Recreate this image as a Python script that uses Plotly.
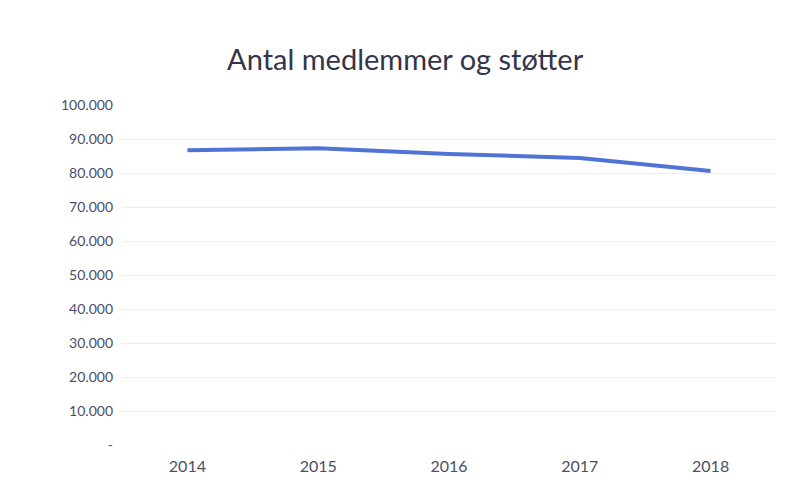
import plotly.graph_objects as go

years = ["2014", "2015", "2016", "2017", "2018"]
members = [86700, 87300, 85600, 84400, 80600]
y_tickvals = [0, 10000, 20000, 30000, 40000, 50000, 60000, 70000, 80000, 90000, 100000]
y_ticktext = ["-", "10.000", "20.000", "30.000", "40.000", "50.000", "60.000",
              "70.000", "80.000", "90.000", "100.000"]

fig = go.Figure()
fig.add_trace(go.Scatter(
    x=years, y=members, mode="lines",
    line=dict(color="#4f74d6", width=4),
    hoverinfo="x+y",
))

fig.update_layout(
    width=788, height=487,
    margin=dict(l=114, r=20, t=97, b=50),
    paper_bgcolor="white", plot_bgcolor="white",
    showlegend=False,
    title=dict(text="Antal medlemmer og støtter", x=0.504, xanchor="center",
               y=0.893, yanchor="middle",
               font=dict(family="Lato, Open Sans, sans-serif", size=29, color="#33354a")),
    font=dict(family="Lato, Open Sans, sans-serif", size=14, color="#4a4e66"),
)
fig.update_xaxes(
    type="category", range=[-0.5, 4.5],
    showgrid=False, showline=False, zeroline=False,
    ticks="", ticklabelstandoff=10,
    tickfont=dict(size=16, color="#4a4e66"),
)
fig.update_yaxes(
    range=[0, 100000], tickvals=y_tickvals, ticktext=y_ticktext,
    showgrid=True, gridcolor="#ededed", gridwidth=1,
    zeroline=False, showline=False, ticks="", ticklabelstandoff=8,
    tickfont=dict(size=14, color="#4a4e66"),
)

fig.write_html("out.html")
